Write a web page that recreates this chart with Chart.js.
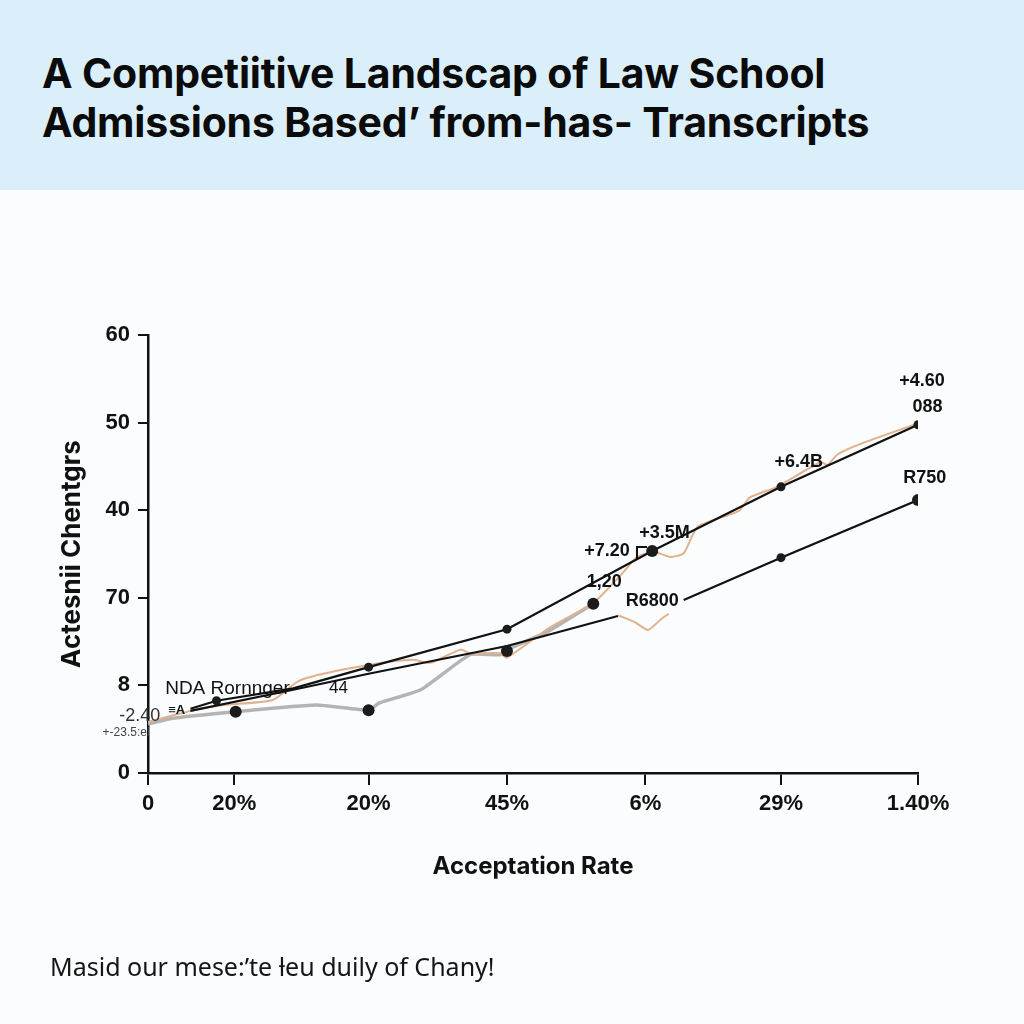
<!DOCTYPE html>
<html>
<head>
<meta charset="utf-8">
<script src="https://cdn.jsdelivr.net/npm/chart.js@4.4.1/dist/chart.umd.min.js"></script>
<style>
  body { margin: 0; width: 1024px; height: 1024px; overflow: hidden; position: relative;
         background: #fafcfd; font-family: "Liberation Sans", Arial, sans-serif; }
  #head { position: absolute; left: 0; top: 0; width: 1024px; height: 190px; background: #dbeffb; }
  #head h1 { margin: 0; position: absolute; left: 42px; top: 49px; font-family: Inter, "Liberation Sans", sans-serif;
             font-size: 41px; line-height: 49px; font-weight: 700; color: #0b0b0b; letter-spacing: -0.2px; }
  #wrap { position: absolute; left: 0; top: 190px; width: 1024px; height: 834px; }
  #foot { position: absolute; left: 50px; top: 951px; font-family: "Noto Sans", "Liberation Sans", sans-serif;
          font-size: 25px; line-height: 30px; color: #151515; }
</style>
</head>
<body>
<div id="head"><h1>A Competiitive Landscap of Law School<br>Admissions Based’ from-has- Transcripts</h1></div>
<div id="wrap"><canvas id="chart" width="1024" height="834"></canvas></div>
<div id="foot">Masid our mese:’te ƚeu duily of Chany!</div>

<script>
// axis ticks (positions in x units, labels as printed)
const xTickValues = [0, 0.63, 1.61, 2.62, 3.63, 4.62, 5.62];
const xTickLabels = ['0', '20%', '20%', '45%', '6%', '29%', '1.40%'];
const yTickLabels = ['0', '8', '70', '40', '50', '60'];

// upper black line
const upperX = [0.31, 0.50, 1.06, 1.61, 2.62, 3.68, 4.62, 5.62];
const upperY = [8.8, 9.9, 11.6, 14.5, 19.7, 30.4, 39.2, 47.7];

// lower black line (gap where the R6800 label sits)
const lowerX = [0.31, 1.06, 1.61, 2.62, 3.43, 3.67, 3.91, 4.62, 5.62];
const lowerY = [8.5, 11.4, 13.6, 17.4, 21.5, null, 23.7, 29.5, 37.4];

// grey line
const greyX = [0, 0.18, 0.64, 1.23, 1.61, 1.69, 1.99, 2.35, 2.57, 2.62, 2.91, 3.25];
const greyY = [6.7, 7.5, 8.4, 9.3, 8.6, 9.6, 11.4, 16.2, 16.2, 16.9, 19.3, 23.2];

// tan line
const tanX = [0, 0.33, 0.55, 0.91, 1.09, 1.23, 1.61, 1.93, 2.06, 2.28, 2.35, 2.57, 2.62, 2.93, 3.25, 3.45,
              3.57, 3.69, 3.81, 3.91, 4.01, 4.23, 4.32, 4.39, 4.59, 4.91, 4.96, 5.03, 5.15, 5.32, 5.62];
const tanY = [7.0, 8.6, 9.3, 10.0, 12.5, 13.4, 14.8, 15.5, 15.1, 16.9, 16.4, 16.4, 15.8, 19.9, 23.3, 27.1,
              29.6, 30.3, 29.6, 30.1, 33.7, 35.3, 36.0, 37.7, 39.2, 42.6, 42.2, 43.6, 44.7, 45.9, 47.9];

// stray tan piece under R6800
const tanBitX = [3.43, 3.55, 3.65, 3.74, 3.80];
const tanBitY = [21.6, 20.7, 19.6, 21.0, 21.8];

// dots
const bigDotX = [0.64, 1.61, 2.62, 3.25, 3.68, 5.62];
const bigDotY = [8.4, 8.6, 16.7, 23.2, 30.4, 37.4];
const smallDotX = [0.50, 1.61, 2.62, 4.62, 4.62, 5.62];
const smallDotY = [9.9, 14.5, 19.7, 39.2, 29.5, 47.7];

// text labels in the plot
const noteText = ['+4.60', '088', '+6.4B', 'R750', '+3.5M', '+7.20', '1,20', 'R6800', 'NDA Rornnger', '44', '-2.40', '+-23.5:el', '≡A'];
const noteX = [5.65, 5.69, 4.75, 5.67, 3.77, 3.35, 3.33, 3.68, 0.58, 1.39, -0.06, -0.16, 0.21];
const noteY = [53.7, 50.1, 42.6, 40.4, 32.9, 30.4, 26.2, 23.6, 11.6, 11.6, 7.8, 5.5, 8.6];

const pts = (xs, ys) => xs.map((x, i) => ({ x, y: ys[i] }));

const notesPlugin = {
  id: 'notes',
  afterDatasetsDraw(chart) {
    const { ctx, scales: { x, y } } = chart;
    ctx.save();
    ctx.textAlign = 'center';
    ctx.textBaseline = 'middle';
    noteText.forEach((t, i) => {
      let font = 'bold 18px "Liberation Sans", Arial, sans-serif';
      let color = '#111';
      if (t === 'NDA Rornnger') font = '19px "Liberation Sans", Arial, sans-serif';
      if (t === '44') font = '17px "Liberation Sans", Arial, sans-serif';
      if (t === '-2.40') { font = '18px "Liberation Sans", Arial, sans-serif'; color = '#333'; }
      if (t === '+-23.5:el') { font = '12px "Liberation Sans", Arial, sans-serif'; color = '#444'; }
      if (t === '≡A') font = 'bold 13px "Liberation Sans", Arial, sans-serif';
      ctx.font = font;
      ctx.fillStyle = color;
      ctx.fillText(t, x.getPixelForValue(noteX[i]), y.getPixelForValue(noteY[i]));
    });
    // little bracket next to +7.20
    const bx = x.getPixelForValue(3.35) + 30, by = y.getPixelForValue(30.4);
    ctx.strokeStyle = '#111';
    ctx.lineWidth = 2;
    ctx.beginPath();
    ctx.moveTo(bx, by + 8); ctx.lineTo(bx, by - 4); ctx.lineTo(bx + 10, by - 4);
    ctx.stroke();
    ctx.restore();
  }
};

new Chart(document.getElementById('chart').getContext('2d'), {
  type: 'line',
  data: {
    datasets: [
      { type: 'scatter', data: pts(bigDotX, bigDotY), pointRadius: 6, backgroundColor: '#1b1b1b', borderWidth: 0, order: 0 },
      { type: 'scatter', data: pts(smallDotX, smallDotY), pointRadius: 4.5, backgroundColor: '#1b1b1b', borderWidth: 0, order: 0 },
      { data: pts(upperX, upperY), borderColor: '#111', borderWidth: 2.2, pointRadius: 0, tension: 0, order: 1 },
      { data: pts(lowerX, lowerY), borderColor: '#111', borderWidth: 2.2, pointRadius: 0, tension: 0, spanGaps: false, order: 1 },
      { data: pts(tanX, tanY), borderColor: '#e0b18c', borderWidth: 2, pointRadius: 0, tension: 0.2, order: 2 },
      { data: pts(tanBitX, tanBitY), borderColor: '#e0b18c', borderWidth: 2, pointRadius: 0, tension: 0.2, order: 2 },
      { data: pts(greyX, greyY), borderColor: '#b4b4b4', borderWidth: 3.5, pointRadius: 0, tension: 0.15, order: 3 },
    ],
  },
  options: {
    responsive: false,
    animation: false,
    layout: { padding: { top: 145, right: 106, bottom: 131, left: 0 } },
    scales: {
      x: {
        type: 'linear',
        min: 0,
        max: 5.62,
        afterBuildTicks: (s) => { s.ticks = xTickValues.map(v => ({ value: v })); },
        afterFit: (s) => { s.height = 120; },
        ticks: {
          autoSkip: false,
          maxRotation: 0,
          padding: 6,
          color: '#111',
          font: { family: '"Liberation Sans", Arial, sans-serif', size: 22, weight: 'bold' },
          callback: (v, i) => xTickLabels[i],
        },
        grid: { drawOnChartArea: false, drawTicks: true, tickLength: 12, color: '#111', lineWidth: 2 },
        border: { color: '#111', width: 2.5 },
        title: {
          display: true,
          text: 'Acceptation Rate',
          color: '#111',
          font: { family: 'Inter, "Liberation Sans", sans-serif', size: 24, weight: 'bold' },
          padding: { top: 0, bottom: 12 },
        },
      },
      y: {
        min: 0,
        max: 60,
        afterFit: (s) => { s.width = 148; },
        ticks: {
          stepSize: 12,
          padding: 8,
          color: '#111',
          font: { family: '"Liberation Sans", Arial, sans-serif', size: 22, weight: 'bold' },
          callback: (v, i) => yTickLabels[i],
        },
        grid: { drawOnChartArea: false, drawTicks: true, tickLength: 10, color: '#111', lineWidth: 2 },
        border: { color: '#111', width: 2.5 },
        title: {
          display: true,
          text: 'Actesnii Chentgrs',
          color: '#111',
          font: { family: 'Inter, "Liberation Sans", sans-serif', size: 26, weight: 'bold' },
          padding: { top: 57, bottom: 0 },
        },
      },
    },
    plugins: {
      legend: { display: false },
      tooltip: { enabled: false },
    },
  },
  plugins: [notesPlugin],
});
</script>
</body>
</html>
